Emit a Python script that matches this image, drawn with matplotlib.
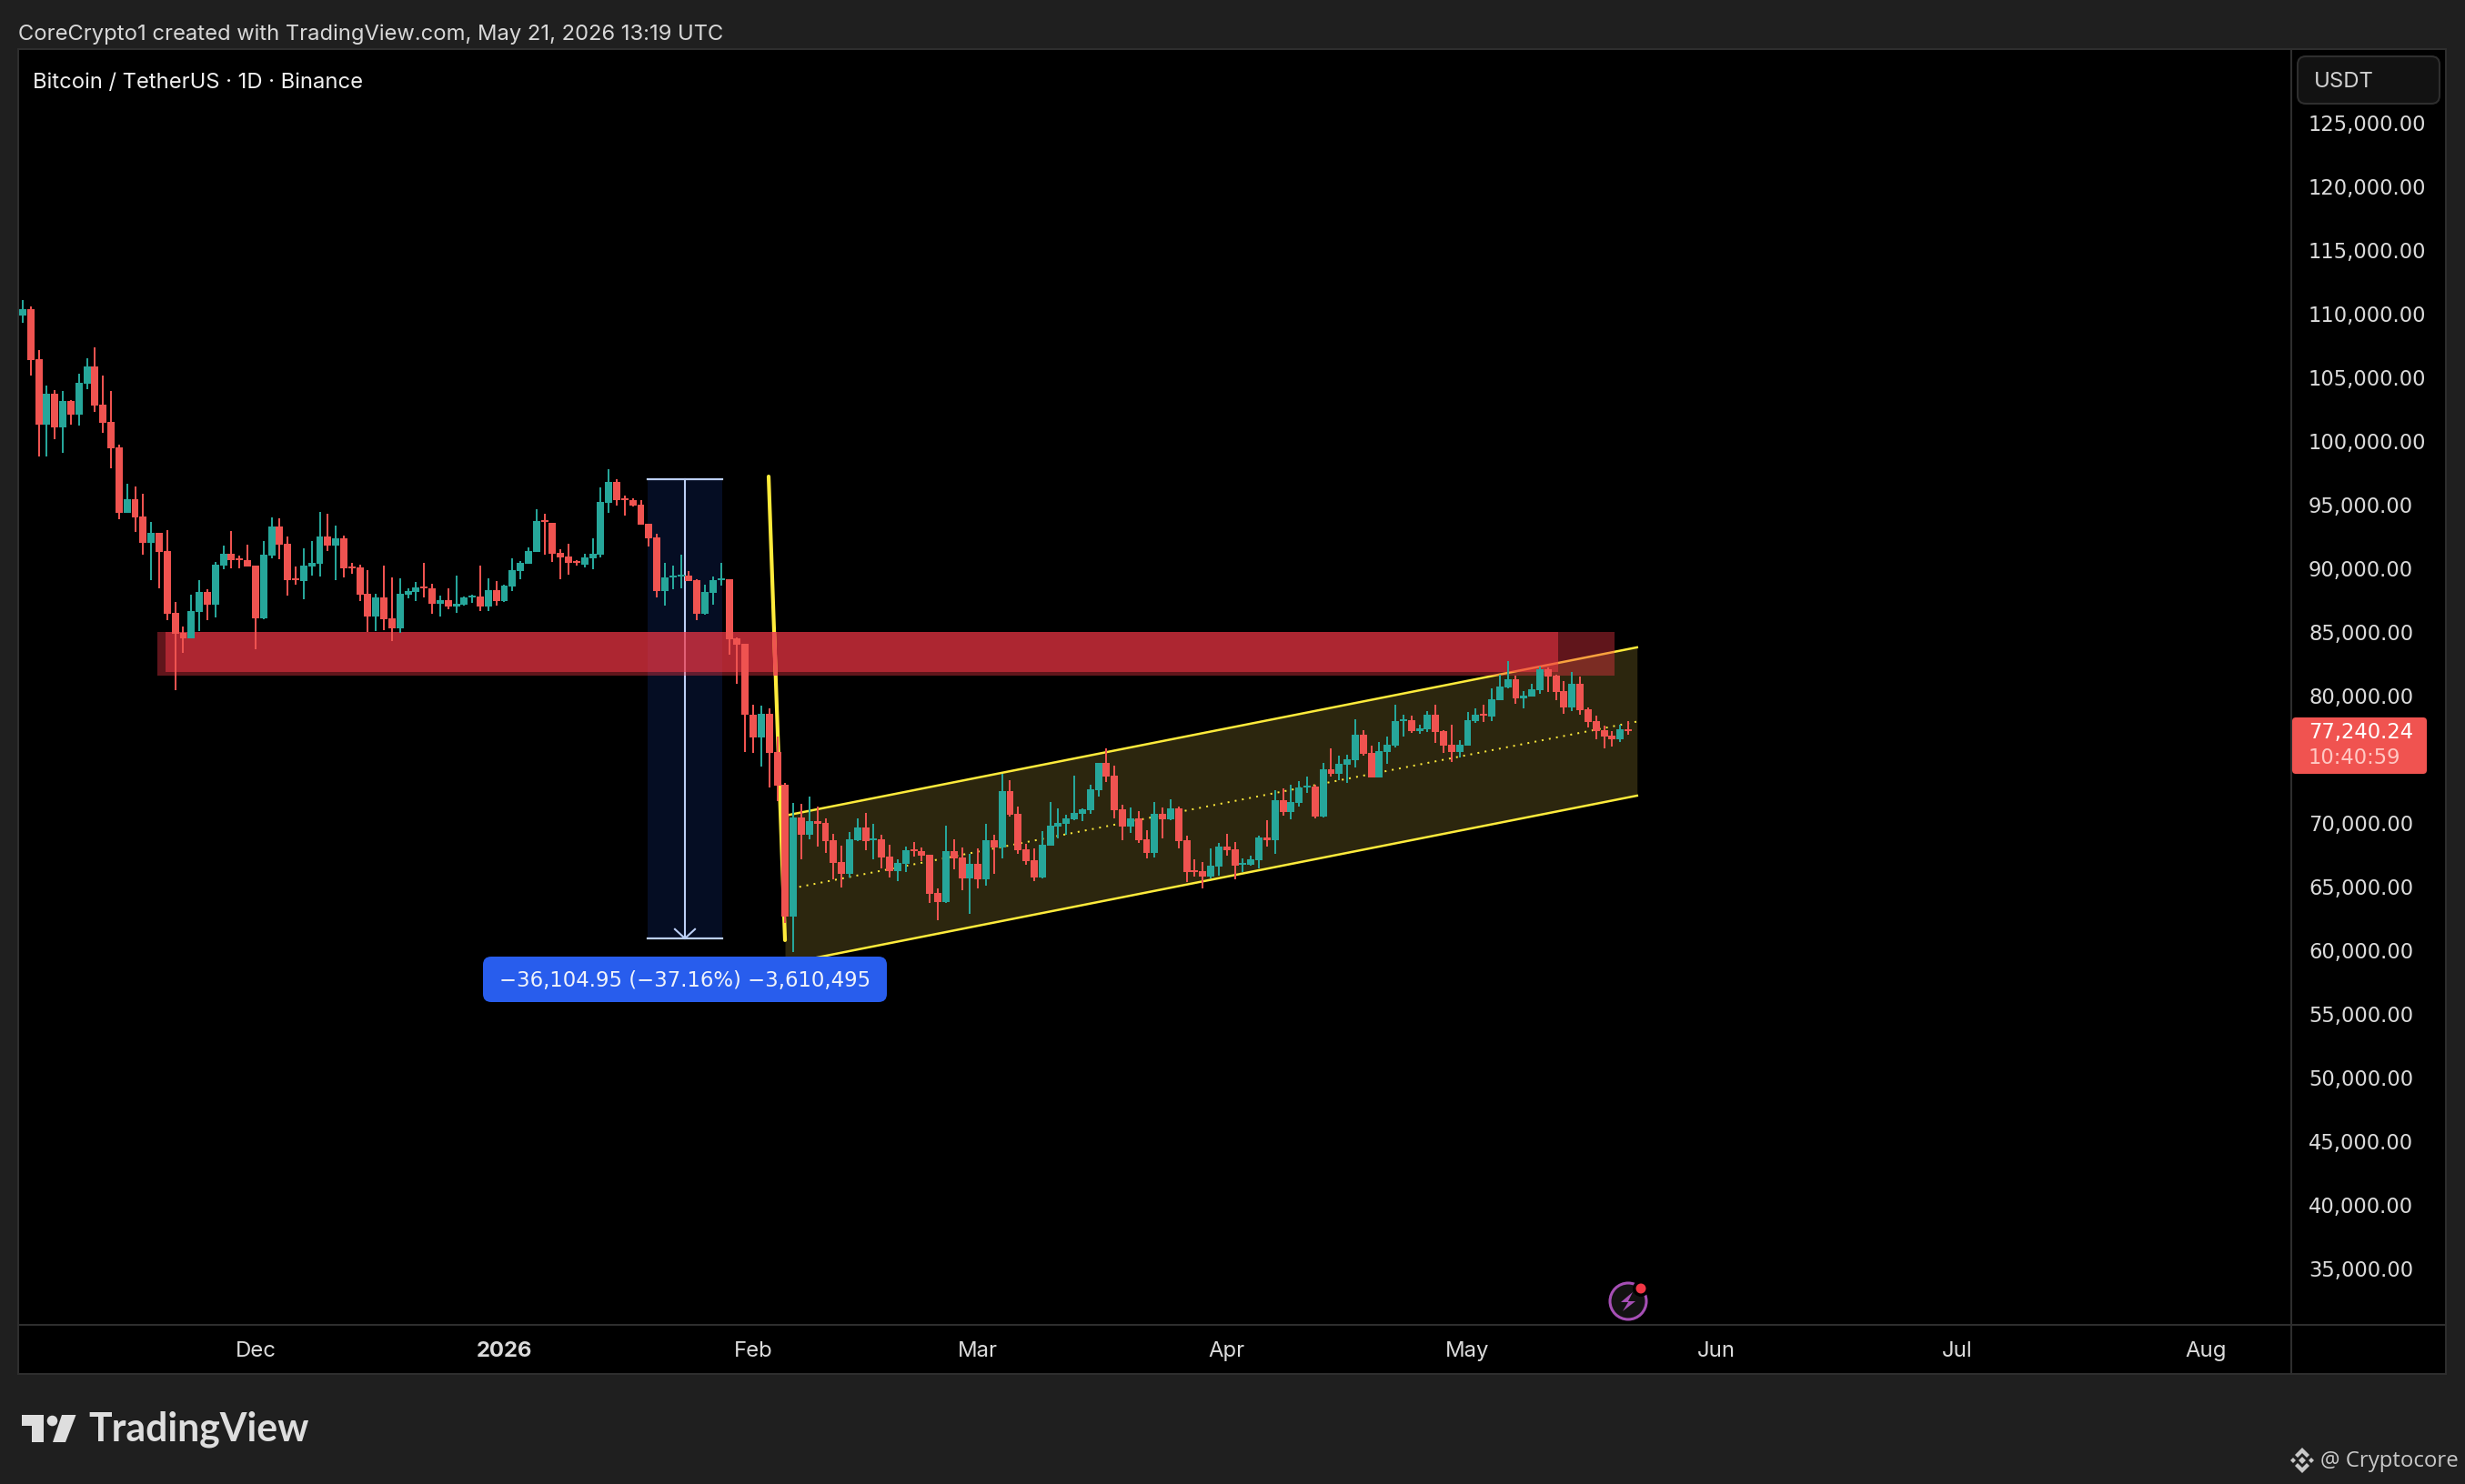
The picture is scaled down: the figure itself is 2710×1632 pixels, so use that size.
import matplotlib
matplotlib.use('Agg')
import matplotlib.pyplot as plt
import numpy as np
from matplotlib.patches import Circle, FancyBboxPatch, Polygon, Rectangle

plt.rcParams['font.family'] = ['Inter', 'DejaVu Sans']

opens = [109860, 110360, 106430, 101290, 103710, 101070, 103140, 102070, 104500, 105860,
         102860, 101500, 99500, 94360, 95430, 94070, 92000, 92790, 91360, 86500,
         84930, 84500, 86570, 88140, 87140, 90210, 91140, 90790, 90640, 90210,
         86070, 91000, 93290, 91930, 89210, 89000, 90140, 90360, 92500, 91790,
         92360, 90140, 90070, 88000, 86210, 87710, 86070, 85290, 87930, 88140,
         88570, 88430, 87210, 87500, 87000, 87140, 87710, 87790, 87000, 88290,
         87430, 88570, 89790, 90360, 91290, 93790, 93570, 91210, 90930, 90570,
         90290, 90790, 91070, 95140, 96790, 95500, 95360, 95000, 93500, 92430,
         88210, 89290, 89360, 89430, 89070, 86430, 88070, 89070, 89140, 84500,
         84080, 78510, 76700, 78570, 75570, 73000, 62640, 70430, 69070, 70140,
         70000, 68640, 66930, 66000, 68640, 69640, 68640, 68710, 67360, 66210,
         66790, 67930, 67790, 67500, 64500, 63790, 67790, 67290, 65640, 66790,
         65570, 68640, 68070, 72500, 70710, 67930, 67070, 65710, 68210, 69710,
         69930, 70290, 70710, 71000, 72570, 74710, 73710, 71070, 69710, 70360,
         68710, 67640, 70710, 70290, 71140, 68640, 66290, 66210, 65790, 66570,
         68140, 67930, 66710, 66710, 67070, 68860, 68640, 71790, 70860, 71570,
         72790, 72860, 70500, 74210, 73860, 74570, 74930, 76930, 75500, 73570,
         75570, 76070, 78000, 78070, 77210, 77360, 78500, 77210, 76140, 75570,
         76070, 78000, 78570, 78360, 79640, 80640, 81290, 79790, 79930, 80430,
         82070, 81570, 80360, 79070, 80930, 78930, 78000, 77290, 76860, 76570,
         77360]
highs = [111070, 110570, 107140, 104360, 104000, 103930, 103210, 105290, 106500, 107360,
         105140, 103930, 99710, 96640, 96430, 95860, 93640, 92790, 93000, 87360,
         85430, 87930, 89070, 88360, 90500, 91790, 92930, 91000, 91860, 90210,
         92140, 94000, 93930, 92500, 90140, 91570, 92140, 94430, 94290, 93360,
         92570, 90430, 90290, 89860, 88000, 90210, 89290, 89210, 88430, 88930,
         90430, 88790, 87860, 88430, 89430, 87790, 87930, 90210, 89210, 89000,
         88710, 90790, 90570, 91640, 94640, 94290, 93570, 91500, 91930, 90640,
         91140, 92360, 96360, 97790, 97000, 95710, 95500, 95360, 93500, 92710,
         90430, 90210, 91070, 89790, 89140, 88710, 89360, 90430, 89140, 84570,
         84100, 79270, 79190, 78990, 76790, 73140, 71570, 71500, 72070, 71290,
         70360, 69140, 68210, 69290, 70360, 70790, 69930, 69070, 68290, 67140,
         68140, 68500, 68070, 67500, 64860, 69790, 68710, 68070, 67570, 68000,
         69930, 69070, 73860, 73360, 71290, 68360, 68000, 69360, 71640, 71140,
         70640, 73710, 71140, 73000, 74710, 75860, 74500, 71430, 71210, 70930,
         69430, 71640, 71210, 71860, 71290, 69000, 67140, 66930, 68000, 68430,
         69140, 68500, 67210, 67430, 69000, 70210, 72570, 72710, 73000, 73290,
         73640, 73000, 74710, 75860, 75290, 75360, 78140, 77290, 76070, 76360,
         76790, 79290, 78500, 78430, 77710, 78790, 79290, 77290, 77710, 76500,
         78710, 79000, 79290, 80570, 81640, 82710, 81570, 80360, 80930, 82260,
         82210, 81640, 81140, 81860, 81500, 79070, 78430, 77640, 77210, 77710,
         78000]
lows = [109290, 105140, 98790, 98790, 100140, 99070, 101290, 101210, 104070, 102290,
        100640, 97860, 93860, 94360, 92860, 91070, 89070, 88430, 85930, 80430,
        83360, 84500, 85070, 85930, 86140, 89930, 90000, 90000, 90140, 83640,
        86000, 90790, 90710, 87860, 88710, 87570, 89430, 89360, 91360, 89070,
        89290, 89570, 87430, 85000, 85070, 85140, 84290, 84930, 87640, 87430,
        87710, 86430, 86210, 86790, 86500, 87070, 87290, 86640, 86640, 87070,
        87360, 88210, 89140, 90360, 91290, 91070, 90500, 89140, 89500, 90210,
        90070, 89930, 90860, 94360, 94930, 94140, 94860, 93430, 91710, 87710,
        87070, 88360, 88430, 89000, 85930, 86360, 87140, 88640, 83210, 80930,
        75580, 75490, 74450, 72790, 71710, 62140, 59860, 67140, 68710, 68140,
        67640, 65570, 64930, 65710, 68570, 67860, 67140, 66430, 65710, 65430,
        66140, 67360, 67000, 63710, 62360, 63710, 66360, 64710, 62860, 64860,
        65070, 66000, 67210, 70500, 67570, 66710, 65430, 65640, 68210, 68790,
        69070, 70210, 70140, 70710, 72070, 73210, 70360, 68640, 69210, 68430,
        67210, 67290, 68790, 70210, 68000, 65360, 65790, 64860, 65640, 65860,
        67430, 65570, 66140, 66640, 66430, 68140, 67570, 70570, 70290, 71290,
        72360, 70360, 70430, 73640, 73360, 73140, 74360, 75290, 73570, 73570,
        74640, 75930, 76790, 77070, 77000, 77140, 76290, 75500, 74790, 75140,
        76070, 77860, 77930, 78000, 79640, 80570, 79360, 79000, 79930, 80140,
        80290, 79640, 78570, 78790, 78500, 77500, 76570, 75860, 76000, 76360,
        76930]
closes = [110360, 106360, 101290, 103710, 101070, 103140, 102070, 104570, 105860, 102790,
          101430, 99430, 94360, 95430, 94000, 92000, 92790, 91290, 86430, 84860,
          84500, 86640, 88140, 87140, 90290, 91140, 90640, 90640, 90140, 86070,
          91070, 93290, 91860, 89070, 89070, 90210, 90430, 92500, 91790, 92360,
          90000, 90000, 87930, 86210, 87710, 86000, 85290, 88000, 88210, 88500,
          88430, 87210, 87500, 87000, 87210, 87710, 87860, 87000, 88290, 87430,
          88640, 89860, 90430, 91360, 93710, 93640, 91140, 90860, 90430, 90430,
          90860, 91140, 95210, 96790, 95360, 95360, 94930, 93430, 92360, 88210,
          89290, 89430, 89500, 89000, 86430, 88140, 89070, 89210, 84430, 84000,
          78510, 76700, 78570, 75500, 72930, 62640, 70430, 69070, 70140, 69930,
          68570, 66860, 66000, 68710, 69640, 68570, 68790, 67290, 66210, 66860,
          67860, 67790, 67430, 64430, 63790, 67790, 67210, 65640, 66790, 65570,
          68640, 68070, 72500, 70640, 67860, 67000, 65710, 68290, 69790, 70000,
          70360, 70790, 71070, 72640, 74710, 73640, 71000, 69710, 70360, 68640,
          67640, 70710, 70290, 71140, 68570, 66140, 66140, 65790, 66640, 68140,
          67860, 66640, 66860, 67140, 68860, 68640, 71790, 70860, 71640, 72790,
          72930, 70500, 74210, 73860, 74640, 75000, 76930, 75430, 73570, 75640,
          76140, 78000, 78140, 77210, 77430, 78500, 77140, 76070, 75570, 76140,
          78070, 78500, 78430, 79710, 80710, 81290, 79790, 80000, 80500, 82070,
          81500, 80290, 79070, 80930, 78860, 77930, 77210, 76790, 76570, 77360,
          77240]

price_ticks = [125000, 120000, 115000, 110000, 105000, 100000, 95000, 90000, 85000,
               80000, 70000, 65000, 60000, 55000, 50000, 45000, 40000, 35000]
month_pos = [29, 60, 91, 119, 150, 180, 211, 241, 272]
month_labels = ['Dec', '2026', 'Feb', 'Mar', 'Apr', 'May', 'Jun', 'Jul', 'Aug']

# drawings on the chart, bar index / price
zone_outer = (16.77, 198.3, 81570, 85000)
zone_inner = (17.79, 191.3, 81860, 85000)
channel_x = [94.96, 201.1]
channel_top = [70570, 83790]
channel_mid = [64750, 77960]
channel_bot = [58930, 72140]
drop_x = [92.92, 94.96]
drop_y = [97210, 60790]
measure_x = (77.85, 87.14)
measure_y = (97030, 60930)

RED = '#EF5350'
GREEN = '#26A69A'
YELLOW = '#FFEB3B'
BG = '#1f1f1f'
BORDER = '#2e2e2e'
LINE_BLUE = '#bccff5'
W, H = 2710, 1632
TXT = '#dbdbdb'
NUM_FONT = ['DejaVu Sans']

fig = plt.figure(figsize=(W / 100, H / 100), dpi=100, facecolor=BG)


def pixel_axes(z):
    a = fig.add_axes([0, 0, 1, 1], zorder=z)
    a.set_xlim(0, W)
    a.set_ylim(H, 0)
    a.axis('off')
    return a


back = pixel_axes(0)
back.add_patch(Rectangle((20, 54), 2669, 1457, fc='black', ec=BORDER, lw=1.5))
back.plot([20, 2689], [1457, 1457], color=BORDER, lw=1.5)
back.plot([2519, 2519], [54, 1511], color=BORDER, lw=1.5)

# main price pane
ax = fig.add_axes([21 / W, 1 - 1457 / H, 2498 / W, 1402 / H], zorder=1)
ax.patch.set_alpha(0)
ax.set_xlim(-0.45, 282.6)
ax.set_ylim(30570, 130710)
for s in ax.spines.values():
    s.set_visible(False)

ax.yaxis.tick_right()
ax.set_yticks(price_ticks)
ax.set_yticklabels([f'{p:,.2f}' for p in price_ticks], ha='left', va='center_baseline', family=NUM_FONT)
ax.tick_params(axis='y', length=0, pad=13.7, labelsize=16.3, labelcolor=TXT)
ax.set_xticks(month_pos)
ax.set_xticklabels(month_labels)
ax.tick_params(axis='x', length=0, pad=13, labelsize=17.2, labelcolor=TXT)
ax.get_xticklabels()[1].set_fontweight('bold')

# parallel channel
ax.fill_between(channel_x, channel_bot, channel_top, color='#FFDC50', alpha=0.175, lw=0, zorder=1)
ax.plot(channel_x, channel_top, color=YELLOW, lw=1.8, zorder=1.2)
ax.plot(channel_x, channel_bot, color=YELLOW, lw=1.8, zorder=1.2)
ax.plot(channel_x, channel_mid, color=YELLOW, lw=1.44, ls=(0, (1, 3)), zorder=1.2)

# measure box
ax.add_patch(Rectangle((measure_x[0], measure_y[1]), measure_x[1] - measure_x[0],
                       measure_y[0] - measure_y[1], fc='#2962ff', alpha=0.14, lw=0, zorder=1))
ax.plot(measure_x, [measure_y[0]] * 2, color=LINE_BLUE, lw=1.6, zorder=1.3)
ax.plot(measure_x, [measure_y[1]] * 2, color=LINE_BLUE, lw=1.6, zorder=1.3)
mid = sum(measure_x) / 2
ax.plot([mid, mid], measure_y, color=LINE_BLUE, lw=1.5, zorder=1.3)
ax.plot([mid - 1.25, mid, mid + 1.25], [measure_y[1] + 720, measure_y[1], measure_y[1] + 720],
        color=LINE_BLUE, lw=1.5, zorder=1.3)

# red zone, two stacked rectangles
for (x0, x1, y0, y1), al in zip([zone_outer, zone_inner], [0.4, 0.53]):
    ax.add_patch(Rectangle((x0, y0), x1 - x0, y1 - y0, fc='#F23645', alpha=al, lw=0, zorder=1.5))

# steep yellow line, red where it crosses the zone
ax.plot(drop_x, drop_y, color=YELLOW, lw=3, solid_capstyle='round', zorder=1.7)
over = ax.plot(drop_x, drop_y, color=RED, lw=3.2, zorder=1.8)[0]
over.set_clip_path(Rectangle((zone_outer[0], zone_outer[2]), zone_outer[1] - zone_outer[0],
                             zone_outer[3] - zone_outer[2], transform=ax.transData))

# candles
o = np.array(opens)
c = np.array(closes)
x = np.arange(len(c))
col = [GREEN if a > b else RED for a, b in zip(c, o)]
ax.vlines(x, lows, highs, colors=col, lw=1.44, zorder=2, antialiased=False)
ax.bar(x, np.abs(c - o), bottom=np.minimum(o, c), width=0.9, color=col, lw=0, zorder=2.1, antialiased=False)

# everything around the chart, in pixels
ui = pixel_axes(3)
ui.text(20, 38, 'CoreCrypto1 created with TradingView.com, May 21, 2026 13:19 UTC',
        color='#d8d8d8', fontsize=17.1, va='center')
ui.text(36, 91, 'Bitcoin / TetherUS · 1D · Binance', color='#efefef', fontsize=17.1, va='center')

ui.add_patch(FancyBboxPatch((2526, 62), 156, 52, boxstyle='round,pad=0,rounding_size=9',
                            fc='#121212', ec=BORDER, lw=1.5))
ui.text(2544, 90, 'USDT', color='#d1d1d1', fontsize=17.2, va='center')

ui.add_patch(FancyBboxPatch((2520, 789), 148, 62, boxstyle='round,pad=0,rounding_size=4',
                            fc='#F05350', ec='none'))
ui.text(2538, 803, '77,240.24', color='white', fontsize=16.3, va='center_baseline', family=NUM_FONT)
ui.text(2538, 831, '10:40:59', color='#ffc8c3', fontsize=16.3, va='center_baseline', family=NUM_FONT)

ui.add_patch(FancyBboxPatch((531, 1052), 444, 50, boxstyle='round,pad=0,rounding_size=9',
                            fc='#285ded', ec='none'))
ui.text(753, 1076, '−36,104.95 (−37.16%) −3,610,495', color='#f0f3fa', fontsize=16.4,
        va='center_baseline', ha='center', family=NUM_FONT)

# lightning button
ui.add_patch(Circle((1790, 1431), 20, fc='#121212', ec='#a64fb5', lw=2.2))
ui.add_patch(Polygon([(1795, 1421), (1782, 1432), (1790, 1432), (1784, 1442), (1798, 1431), (1790, 1431)],
                     fc='#a64fb5', ec='none'))
ui.add_patch(Circle((1804, 1417), 9, fc='black', ec='none'))
ui.add_patch(Circle((1804, 1417), 5.5, fc='#F23645', ec='none'))

# TradingView logo
LOGO = '#dedede'
ui.add_patch(Polygon([(24, 1556), (48, 1556), (48, 1586), (35, 1586), (35, 1568), (24, 1568)], fc=LOGO, ec='none'))
ui.add_patch(Circle((57.5, 1562.5), 5.8, fc=LOGO, ec='none'))
ui.add_patch(Polygon([(68, 1556), (83.5, 1556), (72, 1586), (58, 1586)], fc=LOGO, ec='none'))
ui.text(97, 1572, 'TradingView', color=LOGO, fontsize=30.8, fontweight='bold', va='center',
        family=['Lato', 'DejaVu Sans'])

# watermark
MARK = '#c8c8c8'
for cx, cy, r in [(2521, 1606, 3), (2541, 1606, 3), (2531, 1606, 4)]:
    ui.add_patch(Polygon([(cx - r, cy), (cx, cy - r), (cx + r, cy), (cx, cy + r)], fc=MARK, ec='none'))
ui.add_patch(Polygon([(2531, 1592), (2539, 1600), (2536, 1603), (2531, 1598), (2526, 1603), (2523, 1600)], fc=MARK, ec='none'))
ui.add_patch(Polygon([(2531, 1620), (2539, 1612), (2536, 1609), (2531, 1614), (2526, 1609), (2523, 1612)], fc=MARK, ec='none'))
ui.text(2551, 1607, '@ Cryptocore', color=MARK, fontsize=17.3, va='center', family=['Open Sans', 'DejaVu Sans'])

fig.savefig('out.png', dpi=100, facecolor=BG)
